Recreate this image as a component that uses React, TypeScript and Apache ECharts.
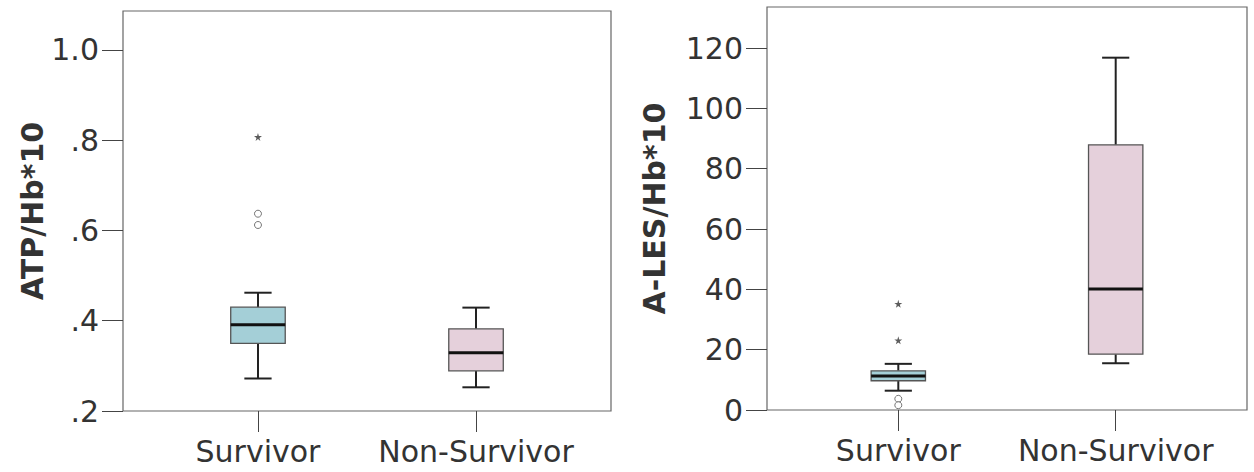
import React, { useEffect, useRef } from "react";
import * as echarts from "echarts";

const categories = ["Survivor", "Non-Survivor"];
const categoryIndex = [0, 1];

// [min, q1, median, q3, max]
const atpBoxes = [
  [0.272, 0.35, 0.391, 0.43, 0.462],
  [0.2525, 0.289, 0.329, 0.382, 0.429],
];
const atpCircles = [
  [0, 0.637],
  [0, 0.612],
];
const atpStars = [[0, 0.807]];
const atpTicks = [0.2, 0.4, 0.6, 0.8, 1.0];

const alesBoxes = [
  [6.4, 9.7, 11.3, 13.0, 15.3],
  [15.5, 18.5, 40.1, 87.9, 116.8],
];
const alesCircles = [
  [0, 3.7],
  [0, 1.6],
];
const alesStars = [
  [0, 35.2],
  [0, 23.1],
];
const alesTicks = [0, 20, 40, 60, 80, 100, 120];

const boxColors = ["#a4cfd7", "#e5d0db"];
const FONT = "DejaVu Sans";
const STAR =
  "path://M50,0 L61,35 L98,35 L68,57 L79,91 L50,70 L21,91 L32,57 L2,35 L39,35 Z";

function renderBox(params: any, api: any) {
  const x = api.value(0);
  const lo = api.value(1);
  const q1 = api.value(2);
  const md = api.value(3);
  const q3 = api.value(4);
  const hi = api.value(5);
  const pLo = api.coord([x, lo]);
  const pQ1 = api.coord([x, q1]);
  const pMd = api.coord([x, md]);
  const pQ3 = api.coord([x, q3]);
  const pHi = api.coord([x, hi]);
  const bw = api.size([0.25, 0])[0];
  const cw = bw / 2;
  const cx = pMd[0];
  const whisk = { stroke: "#222", lineWidth: 2 };
  return {
    type: "group",
    children: [
      { type: "line", shape: { x1: cx, y1: pQ3[1], x2: cx, y2: pHi[1] }, style: whisk },
      { type: "line", shape: { x1: cx, y1: pQ1[1], x2: cx, y2: pLo[1] }, style: whisk },
      { type: "line", shape: { x1: cx - cw / 2, y1: pHi[1], x2: cx + cw / 2, y2: pHi[1] }, style: whisk },
      { type: "line", shape: { x1: cx - cw / 2, y1: pLo[1], x2: cx + cw / 2, y2: pLo[1] }, style: whisk },
      {
        type: "rect",
        shape: { x: cx - bw / 2, y: pQ3[1], width: bw, height: pQ1[1] - pQ3[1] },
        style: { fill: boxColors[params.dataIndex], stroke: "#555", lineWidth: 1.3 },
      },
      {
        type: "line",
        shape: { x1: cx - bw / 2, y1: pMd[1], x2: cx + bw / 2, y2: pMd[1] },
        style: { stroke: "#111", lineWidth: 3 },
      },
    ],
  };
}

function boxData(boxes: number[][]) {
  return boxes.map((b, i) => [categoryIndex[i], ...b]);
}

function xAxisCfg(gridIndex: number, min: number, max: number) {
  return {
    type: "value",
    gridIndex,
    min,
    max,
    position: "bottom",
    axisLine: { show: false, onZero: false },
    splitLine: { show: false },
    axisTick: {
      show: true,
      inside: false,
      length: 21,
      customValues: categoryIndex,
      lineStyle: { color: "#444", width: 1 },
    },
    axisLabel: {
      show: true,
      margin: 25,
      customValues: categoryIndex,
      formatter: (v: number) => categories[Math.round(v)],
      color: "#333",
      fontSize: 30,
      fontFamily: FONT,
    },
  };
}

function yAxisCfg(gridIndex: number, min: number, max: number, ticks: number[], name: string, nameGap: number, fmt?: (v: number) => string) {
  return {
    type: "value",
    gridIndex,
    min,
    max,
    position: "left",
    name,
    nameLocation: "middle",
    nameGap,
    nameTextStyle: { fontSize: 30, fontWeight: "bold", fontFamily: FONT, color: "#333" },
    axisLine: { show: false, onZero: false },
    splitLine: { show: false },
    axisTick: {
      show: true,
      inside: false,
      length: 21,
      customValues: ticks,
      lineStyle: { color: "#444", width: 1 },
    },
    axisLabel: {
      show: true,
      margin: 24,
      customValues: ticks,
      formatter: fmt,
      color: "#333",
      fontSize: 30,
      fontFamily: FONT,
    },
  };
}

function scatterCfg(xi: number, data: number[][], star: boolean) {
  return {
    type: "scatter",
    xAxisIndex: xi,
    yAxisIndex: xi,
    data,
    symbol: star ? STAR : "circle",
    symbolSize: star ? 8 : 7,
    itemStyle: star
      ? { color: "#333" }
      : { color: "#fff", borderColor: "#555", borderWidth: 1 },
    silent: true,
  };
}

export default function App() {
  const ref = useRef<HTMLDivElement>(null);
  useEffect(() => {
    document.body.style.margin = "0";
    const chart = echarts.init(ref.current!, null, { renderer: "svg" });
    chart.setOption({
      animation: false,
      backgroundColor: "#fff",
      grid: [
        { left: 123, top: 11, width: 488, height: 400, show: true, borderColor: "#666", borderWidth: 1.2 },
        { left: 767, top: 7, width: 480, height: 403, show: true, borderColor: "#666", borderWidth: 1.2 },
      ],
      xAxis: [xAxisCfg(0, -0.619, 1.619), xAxisCfg(1, -0.604, 1.604)],
      yAxis: [
        yAxisCfg(0, 0.2, 1.086, atpTicks, "ATP/Hb*10", 76, (v: number) =>
          v === 1 ? "1.0" : String(v).replace(/^0/, "")
        ),
        yAxisCfg(1, 0, 133.6, alesTicks, "A-LES/Hb*10", 98),
      ],
      series: [
        {
          type: "custom",
          xAxisIndex: 0,
          yAxisIndex: 0,
          data: boxData(atpBoxes),
          encode: { x: 0, y: [1, 2, 3, 4, 5] },
          renderItem: renderBox,
          silent: true,
        },
        scatterCfg(0, atpCircles, false),
        scatterCfg(0, atpStars, true),
        {
          type: "custom",
          xAxisIndex: 1,
          yAxisIndex: 1,
          data: boxData(alesBoxes),
          encode: { x: 0, y: [1, 2, 3, 4, 5] },
          renderItem: renderBox,
          silent: true,
        },
        scatterCfg(1, alesCircles, false),
        scatterCfg(1, alesStars, true),
      ],
    });
    return () => chart.dispose();
  }, []);
  return <div ref={ref} style={{ width: 1254, height: 472 }} />;
}
